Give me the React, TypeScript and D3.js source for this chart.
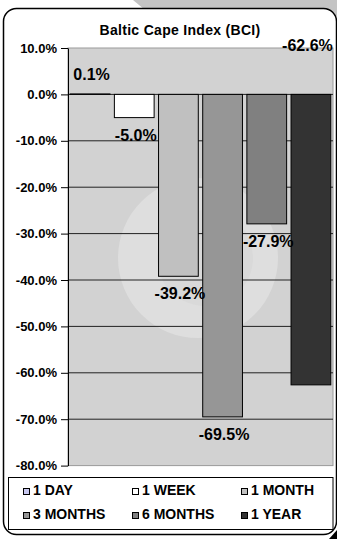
import React, { useEffect, useRef } from "react";
import * as d3 from "d3";

const series = ["1 DAY", "1 WEEK", "1 MONTH", "3 MONTHS", "6 MONTHS", "1 YEAR"];
const values = [0.1, -5.0, -39.2, -69.5, -27.9, -62.6];
const colors = ["#c8c8f0", "#ffffff", "#c0c0c0", "#969696", "#808080", "#333333"];
const yTicks = [10, 0, -10, -20, -30, -40, -50, -60, -70, -80];
const title = "Baltic Cape Index (BCI)";

const W = 337;
const H = 539;
const FONT = "Arial, 'Liberation Sans', sans-serif";
const plot = { x0: 68, x1: 333, y0: 48, y1: 465.6 };

export default function App() {
  const axisRef = useRef<SVGGElement>(null);

  const x = d3
    .scaleBand<string>()
    .domain(series)
    .range([plot.x0, plot.x1])
    .paddingInner(0.1)
    .paddingOuter(0.05);
  const y = d3.scaleLinear().domain([10, -80]).range([plot.y0, plot.y1]);

  useEffect(() => {
    if (!axisRef.current) return;
    const g = d3.select(axisRef.current);
    g.selectAll("*").remove();
    g.call(
      d3
        .axisLeft(y)
        .tickValues(yTicks)
        .tickSize(7)
        .tickSizeOuter(0)
        .tickPadding(4)
        .tickFormat((d) => `${(+d).toFixed(1)}%`)
    );
    g.attr("font-size", 13).attr("font-family", FONT);
    g.select(".domain").attr("stroke", "#000").attr("stroke-width", 1);
    g.selectAll(".tick line").attr("stroke", "#000");
    g.selectAll(".tick text")
      .attr("font-family", FONT)
      .attr("font-size", 13)
      .attr("font-weight", "bold")
      .attr("fill", "#000");
  }, []);

  const legendCols = [23, 132, 241];
  const legendRows = [495, 519];

  return (
    <svg
      width={W}
      height={H}
      style={{ position: "absolute", left: 0, top: 0, background: "#fff" }}
      fontFamily={FONT}
    >
      {/* background decoration */}
      <polygon points="133,0 337,0 337,60 145,10" fill="#c4c4c4" />
      <rect x={3.5} y={8.5} width={333} height={526} rx={13} fill="#fff" stroke="#000" strokeWidth={1.5} />
      <polygon points="329,539 337,539 337,530" fill="#000" />

      {/* title */}
      <text x={180} y={35} textAnchor="middle" fontSize={14} fontWeight="bold" letterSpacing={0.3}>
        {title}
      </text>

      {/* plot area */}
      <defs>
        <clipPath id="plotClip">
          <rect x={plot.x0} y={plot.y0} width={plot.x1 - plot.x0} height={plot.y1 - plot.y0} />
        </clipPath>
      </defs>
      <rect
        x={plot.x0}
        y={plot.y0}
        width={plot.x1 - plot.x0}
        height={plot.y1 - plot.y0}
        fill="#d2d2d2"
        stroke="#9a9a9a"
        strokeWidth={1}
      />
      <g clipPath="url(#plotClip)">
        <circle cx={198} cy={258} r={80} fill="#dedede" />
        <circle cx={205} cy={258} r={48} fill="#d9d9d9" />
      </g>
      {yTicks
        .filter((t) => t < 10 && t > -80)
        .map((t) => (
          <line key={t} x1={plot.x0} x2={plot.x1} y1={y(t)} y2={y(t)} stroke="#222" strokeWidth={1} />
        ))}

      {/* bars */}
      {series.map((s, i) => {
        const v = values[i];
        const top = Math.min(y(v), y(0));
        const h = Math.abs(y(v) - y(0));
        return (
          <rect
            key={s}
            x={x(s)!}
            y={top}
            width={x.bandwidth()}
            height={Math.max(h, 0.5)}
            fill={colors[i]}
            stroke="#000"
            strokeWidth={1}
          />
        );
      })}

      {/* data labels */}
      {series.map((s, i) => {
        const v = values[i];
        const cx = x(s)! + x.bandwidth() / 2 + 1.5;
        const atTop = s === "1 YEAR";
        const ly = atTop ? plot.y0 + 3 : v >= 0 ? y(v) - 14 : y(v) + 23;
        const lx = atTop ? cx - 5 : cx;
        return (
          <text key={s} x={lx} y={ly} textAnchor="middle" fontSize={16} fontWeight="bold" fill="#000">
            {`${v.toFixed(1)}%`}
          </text>
        );
      })}

      {/* y axis */}
      <g ref={axisRef} transform={`translate(${plot.x0},0)`} />

      {/* legend */}
      <rect x={8.5} y={477.5} width={324.5} height={52} fill="#fff" stroke="#000" strokeWidth={1} />
      {series.map((s, i) => {
        const cx = legendCols[i % 3];
        const by = legendRows[Math.floor(i / 3)];
        return (
          <g key={s}>
            <rect x={cx + 0.5} y={by - 6.5} width={6} height={6} fill={colors[i]} stroke="#000" strokeWidth={1} />
            <text x={cx + 10} y={by} fontSize={14} fontWeight="bold" fill="#000">
              {s}
            </text>
          </g>
        );
      })}
    </svg>
  );
}
